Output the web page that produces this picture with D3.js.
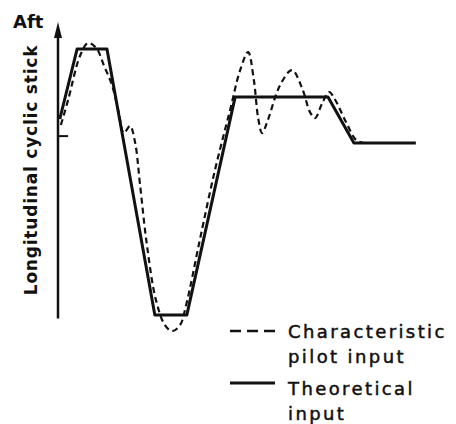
<!DOCTYPE html>
<html>
<head>
<meta charset="utf-8">
<script src="https://cdn.jsdelivr.net/npm/d3@7"></script>
<style>
  html, body { margin: 0; padding: 0; background: #fff; }
  svg { display: block; }
  text { font-family: 'DejaVu Sans', sans-serif; fill: #111; }
</style>
</head>
<body>
<div id="chart"></div>
<script>
// theoretical input (solid), time vs stick position
const theoryTime = [0.05, 0.53, 1.36, 2.69, 3.58, 4.92, 7.5, 8.22, 9.94]
const theoryStick = [6.7, 9.03, 9.03, 0.17, 0.17, 7.43, 7.43, 5.9, 5.9]

// characteristic pilot input (dashed)
const pilotTime = [0.08, 0.28, 0.61, 0.83, 1.06, 1.28, 1.5, 1.69, 1.83, 2.0, 2.14, 2.28, 2.47, 2.72, 2.97, 3.17, 3.39, 3.56, 3.94, 4.36, 4.78, 5.06, 5.28, 5.44, 5.56, 5.67, 5.83, 6.17, 6.5, 6.78, 7.0, 7.14, 7.33, 7.53, 7.67, 8.0, 8.28, 8.5]
const pilotStick = [6.5, 7.33, 8.8, 9.23, 9.07, 8.47, 7.83, 6.9, 6.23, 6.47, 5.93, 4.5, 2.5, 0.67, -0.17, -0.37, -0.17, 0.5, 2.67, 5.0, 7.0, 8.33, 8.93, 8.0, 6.73, 6.23, 6.67, 7.83, 8.33, 7.73, 6.93, 6.73, 7.2, 7.6, 7.4, 6.6, 6.0, 5.9]

const axisTicks = [6.13]
const legendLabels = [['Characteristic', 'pilot input'], ['Theoretical', 'input']]

const width = 456
const height = 424

const svg = d3.select('#chart')
  .append('svg')
  .attr('width', width)
  .attr('height', height)

const x = d3.scaleLinear().domain([0, 10]).range([58, 418])
const y = d3.scaleLinear().domain([0, 10]).range([320, 20])

// vertical axis with arrow
svg.append('line')
  .attr('x1', x(0)).attr('x2', x(0))
  .attr('y1', y(0.05)).attr('y2', y(9.4))
  .attr('stroke', '#111')
  .attr('stroke-width', 2.5)

svg.append('path')
  .attr('d', `M${x(0)},${y(9.93)} L${x(0) - 4},${y(9.4)} L${x(0) + 4},${y(9.4)} Z`)
  .attr('fill', '#111')

svg.selectAll('.tick')
  .data(axisTicks)
  .join('line')
  .attr('class', 'tick')
  .attr('x1', x(0)).attr('x2', x(0.28))
  .attr('y1', d => y(d)).attr('y2', d => y(d))
  .attr('stroke', '#111')
  .attr('stroke-width', 2)

svg.append('text')
  .attr('x', 13)
  .attr('y', 28)
  .attr('font-size', 18)
  .attr('font-weight', 'bold')
  .text('Aft')

svg.append('text')
  .attr('transform', `translate(37,170) rotate(-90)`)
  .attr('text-anchor', 'middle')
  .attr('font-size', 17)
  .attr('font-weight', 'bold')
  .attr('letter-spacing', 0.8)
  .text('Longitudinal cyclic stick')

const theory = theoryTime.map((t, i) => [t, theoryStick[i]])
const pilot = pilotTime.map((t, i) => [t, pilotStick[i]])

svg.append('path')
  .datum(pilot)
  .attr('fill', 'none')
  .attr('stroke', '#111')
  .attr('stroke-width', 2.2)
  .attr('stroke-dasharray', '6,4')
  .attr('d', d3.line().x(d => x(d[0])).y(d => y(d[1])).curve(d3.curveCatmullRom.alpha(0.5)))

svg.append('path')
  .datum(theory)
  .attr('fill', 'none')
  .attr('stroke', '#111')
  .attr('stroke-width', 3)
  .attr('stroke-linejoin', 'round')
  .attr('d', d3.line().x(d => x(d[0])).y(d => y(d[1])))

// legend
const rows = [{ lineY: 331, textY: 338, dash: '11,6', sw: 2.5 }, { lineY: 383, textY: 395, dash: null, sw: 3 }]
legendLabels.forEach((lines, i) => {
  const g = svg.append('g')
  g.append('line')
    .attr('x1', 230).attr('x2', 275)
    .attr('y1', rows[i].lineY).attr('y2', rows[i].lineY)
    .attr('stroke', '#111')
    .attr('stroke-width', rows[i].sw)
    .attr('stroke-dasharray', rows[i].dash)
  lines.forEach((s, j) => {
    g.append('text')
      .attr('x', 288)
      .attr('y', rows[i].textY + j * 25)
      .attr('font-size', 18)
      .attr('letter-spacing', 2.4)
      .attr('stroke', '#111')
      .attr('stroke-width', 0.5)
      .text(s)
  })
})
</script>
</body>
</html>
